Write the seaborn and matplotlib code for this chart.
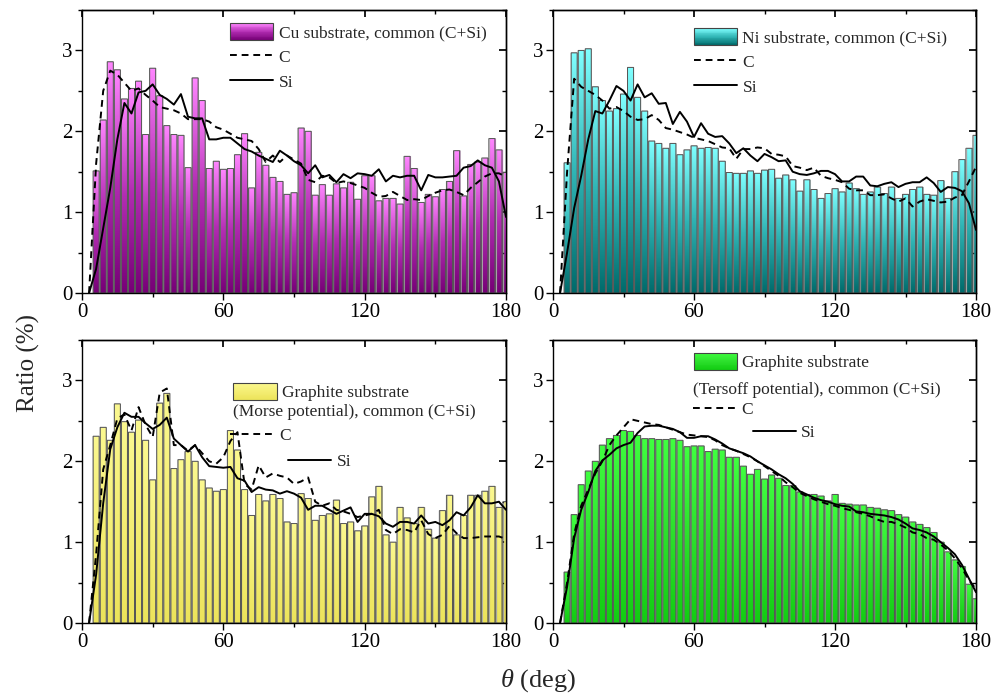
import numpy as np
import matplotlib
matplotlib.use("Agg")
import matplotlib.pyplot as plt
import seaborn as sns
from matplotlib.colors import LinearSegmentedColormap
from matplotlib.patches import Rectangle, Patch
from matplotlib.lines import Line2D
from matplotlib.legend_handler import HandlerBase

# ---------------- data ----------------
BAR_ANGLES = list(range(6, 181, 3))    # 59 bins (deg)
LINE_ANGLES = list(range(3, 181, 3))   # 60 points (deg)

cu_common = [1.51, 2.14, 2.86, 2.76, 2.40, 2.53, 2.62, 1.96, 2.78, 2.44,
             2.07, 1.96, 1.95, 1.55, 2.66, 2.38, 1.54, 1.63, 1.53, 1.54,
             1.71, 1.97, 1.30, 1.74, 1.58, 1.43, 1.38, 1.22, 1.24, 2.04,
             2.00, 1.21, 1.34, 1.21, 1.35, 1.30, 1.37, 1.16, 1.45, 1.45,
             1.14, 1.17, 1.17, 1.10, 1.69, 1.54, 1.12, 1.22, 1.19, 1.28,
             1.38, 1.76, 1.20, 1.59, 1.62, 1.67, 1.91, 1.77, 1.49]
cu_C = [0.00, 1.60, 2.50, 2.75, 2.70, 2.60, 2.50, 2.53, 2.45, 2.38,
        2.30, 2.28, 2.26, 2.22, 2.15, 2.15, 2.15, 2.12, 2.05, 2.02,
        1.97, 1.92, 1.90, 1.88, 1.78, 1.62, 1.70, 1.62, 1.70, 1.65,
        1.60, 1.40, 1.37, 1.45, 1.43, 1.36, 1.38, 1.36, 1.33, 1.30,
        1.24, 1.19, 1.20, 1.25, 1.20, 1.15, 1.16, 1.15, 1.20, 1.24,
        1.27, 1.28, 1.25, 1.21, 1.30, 1.37, 1.44, 1.48, 1.48, 1.44]
cu_Si = [0.00, 0.30, 0.80, 1.30, 1.90, 2.35, 2.22, 2.48, 2.50, 2.58,
         2.45, 2.40, 2.33, 2.46, 2.18, 2.16, 2.16, 1.90, 1.90, 1.92,
         1.92, 1.85, 1.78, 1.75, 1.70, 1.66, 1.62, 1.76, 1.70, 1.63,
         1.58, 1.48, 1.58, 1.43, 1.46, 1.37, 1.47, 1.42, 1.48, 1.47,
         1.45, 1.53, 1.38, 1.45, 1.43, 1.45, 1.45, 1.27, 1.46, 1.43,
         1.43, 1.44, 1.45, 1.55, 1.57, 1.64, 1.58, 1.55, 1.38, 0.94]

ni_common = [1.61, 2.97, 3.00, 3.02, 2.55, 2.38, 2.25, 2.28, 2.46, 2.79,
             2.42, 2.25, 1.88, 1.85, 1.79, 1.85, 1.71, 1.77, 1.82, 1.79,
             1.80, 1.79, 1.63, 1.49, 1.48, 1.48, 1.51, 1.48, 1.52, 1.53,
             1.42, 1.46, 1.40, 1.26, 1.40, 1.28, 1.17, 1.23, 1.29, 1.25,
             1.36, 1.29, 1.22, 1.25, 1.31, 1.23, 1.31, 1.17, 1.22, 1.28,
             1.31, 1.22, 1.21, 1.39, 1.17, 1.50, 1.65, 1.79, 1.95]
ni_C = [0.00, 1.50, 2.65, 2.55, 2.50, 2.45, 2.38, 2.28, 2.30, 2.25,
        2.18, 2.14, 2.15, 2.20, 2.14, 2.04, 2.02, 1.99, 1.96, 1.92,
        1.90, 1.88, 1.84, 1.80, 1.79, 1.66, 1.78, 1.78, 1.80, 1.79,
        1.72, 1.71, 1.69, 1.57, 1.55, 1.52, 1.55, 1.45, 1.42, 1.40,
        1.37, 1.29, 1.27, 1.27, 1.21, 1.21, 1.22, 1.17, 1.13, 1.17,
        1.07, 1.13, 1.16, 1.14, 1.12, 1.13, 1.18, 1.21, 1.38, 1.56]
ni_Si = [0.00, 0.50, 1.05, 1.45, 1.90, 2.25, 2.22, 2.38, 2.56, 2.50,
         2.38, 2.58, 2.42, 2.47, 2.34, 2.35, 2.09, 2.24, 2.12, 1.93,
         2.10, 1.97, 1.93, 1.94, 1.85, 1.73, 1.79, 1.70, 1.63, 1.72,
         1.68, 1.63, 1.64, 1.50, 1.47, 1.46, 1.48, 1.51, 1.51, 1.47,
         1.38, 1.38, 1.44, 1.44, 1.33, 1.32, 1.35, 1.37, 1.31, 1.35,
         1.37, 1.37, 1.43, 1.36, 1.25, 1.31, 1.30, 1.26, 1.11, 0.78]

morse_common = [2.31, 2.42, 2.26, 2.71, 2.49, 2.36, 2.51, 2.26, 1.77, 2.72,
                2.84, 1.91, 2.02, 2.12, 2.00, 1.77, 1.67, 1.63, 1.65, 2.38,
                2.14, 1.65, 1.33, 1.59, 1.51, 1.59, 1.54, 1.25, 1.23, 1.60,
                1.54, 1.27, 1.33, 1.35, 1.52, 1.23, 1.25, 1.14, 1.20, 1.56,
                1.69, 1.09, 1.00, 1.43, 1.30, 1.23, 1.43, 1.16, 1.05, 1.39,
                1.58, 1.09, 1.33, 1.58, 1.58, 1.63, 1.69, 1.43, 1.50]
morse_C = [0.00, 0.85, 1.90, 2.20, 2.53, 2.58, 2.38, 2.67, 2.45, 2.30,
           2.85, 2.90, 2.20, 2.20, 2.13, 2.20, 2.10, 2.00, 1.97, 2.05,
           2.25, 2.36, 1.72, 1.65, 1.95, 1.80, 1.85, 1.82, 1.80, 1.72,
           1.75, 1.80, 1.50, 1.45, 1.48, 1.40, 1.38, 1.35, 1.31, 1.33,
           1.35, 1.40, 1.15, 1.10, 1.16, 1.15, 1.12, 1.27, 1.10, 1.05,
           1.09, 1.20, 1.11, 1.05, 1.05, 1.06, 1.07, 1.07, 1.07, 1.04]
morse_Si = [0.00, 0.60, 1.48, 2.15, 2.42, 2.60, 2.55, 2.55, 2.47, 2.40,
            2.45, 2.54, 2.28, 2.20, 2.12, 2.20, 2.05, 1.94, 1.93, 1.92,
            1.93, 1.79, 1.76, 1.62, 1.68, 1.65, 1.64, 1.60, 1.63, 1.60,
            1.55, 1.40, 1.45, 1.45, 1.40, 1.35, 1.39, 1.43, 1.25, 1.35,
            1.35, 1.32, 1.23, 1.19, 1.25, 1.25, 1.23, 1.33, 1.23, 1.25,
            1.21, 1.27, 1.37, 1.33, 1.43, 1.58, 1.48, 1.48, 1.50, 1.40]

tersoff_common = [0.63, 1.34, 1.71, 1.88, 2.00, 2.20, 2.28, 2.32, 2.38, 2.37,
                  2.32, 2.28, 2.28, 2.27, 2.27, 2.28, 2.26, 2.18, 2.19, 2.19,
                  2.12, 2.15, 2.14, 2.05, 2.05, 1.94, 1.84, 1.90, 1.78, 1.83,
                  1.79, 1.70, 1.70, 1.62, 1.59, 1.59, 1.57, 1.51, 1.59, 1.48,
                  1.47, 1.46, 1.46, 1.43, 1.42, 1.40, 1.39, 1.34, 1.31, 1.25,
                  1.22, 1.18, 1.12, 1.00, 0.88, 0.78, 0.70, 0.48, 0.30]
tersoff_C = [0.00, 0.50, 1.10, 1.45, 1.65, 1.85, 2.00, 2.20, 2.32, 2.42,
             2.52, 2.50, 2.48, 2.46, 2.45, 2.42, 2.39, 2.36, 2.33, 2.32,
             2.31, 2.30, 2.26, 2.20, 2.16, 2.13, 2.09, 2.05, 2.00, 1.94,
             1.88, 1.82, 1.74, 1.68, 1.61, 1.57, 1.53, 1.50, 1.47, 1.45,
             1.42, 1.40, 1.37, 1.35, 1.32, 1.28, 1.25, 1.25, 1.22, 1.18,
             1.12, 1.10, 1.05, 1.03, 0.97, 0.90, 0.80, 0.68, 0.53, 0.42]
tersoff_Si = [0.00, 0.45, 1.05, 1.40, 1.62, 1.88, 2.01, 2.08, 2.16, 2.20,
              2.23, 2.35, 2.43, 2.44, 2.44, 2.42, 2.40, 2.36, 2.29, 2.29,
              2.31, 2.31, 2.27, 2.22, 2.16, 2.13, 2.10, 2.06, 2.00, 1.95,
              1.90, 1.84, 1.79, 1.72, 1.63, 1.59, 1.55, 1.52, 1.50, 1.47,
              1.45, 1.44, 1.38, 1.37, 1.35, 1.34, 1.33, 1.31, 1.28, 1.23,
              1.17, 1.15, 1.12, 1.07, 1.00, 0.93, 0.85, 0.72, 0.55, 0.38]

X_TICKS = [0, 60, 120, 180]
Y_TICKS = [0, 1, 2, 3]

# ---------------- style ----------------
sns.set_theme(style="ticks")
plt.rcParams["font.family"] = ["Liberation Serif", "DejaVu Serif"]
plt.rcParams["mathtext.fontset"] = "custom"
plt.rcParams["mathtext.rm"] = "Liberation Serif"
plt.rcParams["mathtext.it"] = "Liberation Serif:italic"
plt.rcParams["axes.edgecolor"] = "black"
plt.rcParams["axes.linewidth"] = 1.0
plt.rcParams["xtick.color"] = "black"
plt.rcParams["ytick.color"] = "black"

cmaps = {
    "cu": LinearSegmentedColormap.from_list("cu", ["#760076", "#b22db2", "#ff86ff"]),
    "ni": LinearSegmentedColormap.from_list("ni", ["#006a6a", "#2fb4b4", "#80ffff"]),
    "morse": LinearSegmentedColormap.from_list("mo", ["#ece35a", "#f4ee74", "#fbf890"]),
    "tersoff": LinearSegmentedColormap.from_list("te", ["#12cc12", "#2de02d", "#40ff40"]),
}


class GradHandler(HandlerBase):
    def __init__(self, cmap):
        super().__init__()
        self.cmap = cmap

    def create_artists(self, legend, orig_handle, xd, yd, width, height, fontsize, trans):
        arts = []
        n = 20
        for i in range(n):
            arts.append(Rectangle((-xd, -yd + height * i / n), width, height / n + 0.01,
                                  facecolor=self.cmap((i + 0.5) / n), edgecolor="none",
                                  transform=trans))
        arts.append(Rectangle((-xd, -yd), width, height, fill=False,
                              edgecolor="#444444", lw=0.8, transform=trans))
        return arts


fig = plt.figure(figsize=(10.05, 6.93), dpi=100)
W, H = 1005, 693
boxes = [
    (82, 10, 424, 283),
    (553, 10, 423, 283),
    (82, 340, 424, 283),
    (553, 340, 423, 283),
]

panels = [
    ("cu", cu_common, cu_C, cu_Si),
    ("ni", ni_common, ni_C, ni_Si),
    ("morse", morse_common, morse_C, morse_Si),
    ("tersoff", tersoff_common, tersoff_C, tersoff_Si),
]

LEG_FS = 12.5
XMAX, YMAX = 180, 3.5
NX, NY = 2400, 900

for (x0, y0, w, h), (key, common, cval, sival) in zip(boxes, panels):
    ax = fig.add_axes([x0 / W, 1 - (y0 + h) / H, w / W, h / H])
    cmap = cmaps[key]
    sns.barplot(x=BAR_ANGLES, y=common, native_scale=True, width=0.86,
                color=cmap(0.5), edgecolor="#555555", linewidth=0.7,
                errorbar=None, ax=ax, zorder=2)

    # vertical gradient inside each bar (normalised to that bar's height)
    xs = (np.arange(NX) + 0.5) * XMAX / NX
    ys = (np.arange(NY) + 0.5) * YMAX / NY
    img = np.full((NY, NX), np.nan)
    for p in list(ax.patches):
        bx, bw, bh = p.get_x(), p.get_width(), p.get_height()
        cols = (xs >= bx) & (xs < bx + bw)
        col = ys / bh
        col[ys > bh] = np.nan
        img[:, cols] = col[:, None]
        p.set_facecolor("none")
        p.set_zorder(2)
        p.set_snap(False)
    ax.imshow(np.ma.masked_invalid(img), extent=[0, XMAX, 0, YMAX], origin="lower",
              aspect="auto", cmap=cmap, vmin=0, vmax=1, interpolation="antialiased",
              zorder=1.5)

    sns.lineplot(x=LINE_ANGLES, y=cval, ax=ax, color="black", lw=1.4,
                 linestyle=(0, (3.5, 2.5)), zorder=3)
    sns.lineplot(x=LINE_ANGLES, y=sival, ax=ax, color="black", lw=1.4, zorder=3)

    ax.set_xlim(0, XMAX)
    ax.set_ylim(0, YMAX)
    ax.set_xticks(X_TICKS)
    ax.set_xticks([30, 90, 150], minor=True)
    ax.set_yticks(Y_TICKS)
    ax.set_yticks([0.5, 1.5, 2.5, 3.5], minor=True)
    ax.set_xlabel("")
    ax.set_ylabel("")
    ax.tick_params(which="major", direction="out", length=5, width=1, labelsize=15, pad=2)
    ax.tick_params(which="minor", direction="out", length=3, width=1)
    for s in ax.spines.values():
        s.set_visible(True)
        s.set_color("black")
    sx = ax.secondary_xaxis("top")
    sx.set_xticks(X_TICKS)
    sx.set_xticks([30, 90, 150], minor=True)
    sx.tick_params(which="major", direction="in", length=5, labeltop=False)
    sx.tick_params(which="minor", direction="in", length=3)
    sy = ax.secondary_yaxis("right")
    sy.set_yticks(Y_TICKS)
    sy.set_yticks([0.5, 1.5, 2.5, 3.5], minor=True)
    sy.tick_params(which="major", direction="in", length=5, labelright=False)
    sy.tick_params(which="minor", direction="in", length=3)

    ph = Patch(facecolor=cmap(0.5))
    c_h = Line2D([], [], color="black", lw=1.4, linestyle=(0, (3.5, 2.5)))
    s_h = Line2D([], [], color="black", lw=1.4)
    common_kw = dict(frameon=False, fontsize=LEG_FS, borderpad=0, borderaxespad=0,
                     handlelength=2.5, handletextpad=0.3, handler_map={ph: GradHandler(cmap)})

    if key in ("cu", "ni"):
        name = "Cu substrate, common (C+Si)" if key == "cu" else "Ni substrate, common (C+Si)"
        anchor = (0.349, 0.953) if key == "cu" else (0.333, 0.935)
        ax.legend([ph, c_h, s_h], [name, "C", "Si"], loc="upper left",
                  bbox_to_anchor=anchor, labelspacing=0.38, handleheight=1.1, **common_kw)
    else:
        if key == "morse":
            line2 = "(Morse potential), common (C+Si)"
            p1, t2, c3, s4 = (0.357, 0.816), (0.357, 0.746), (0.350, 0.661), (0.486, 0.569)
        else:
            line2 = "(Tersoff potential), common (C+Si)"
            p1, t2, c3, s4 = (0.333, 0.922), (0.331, 0.823), (0.331, 0.753), (0.472, 0.671)
        l1 = ax.legend([ph], ["Graphite substrate"], loc="center left", bbox_to_anchor=p1,
                       handleheight=1.1, **common_kw)
        ax.add_artist(l1)
        ax.text(t2[0], t2[1], line2, transform=ax.transAxes, fontsize=LEG_FS,
                ha="left", va="center")
        l2 = ax.legend([c_h], ["C"], loc="center left", bbox_to_anchor=c3, **common_kw)
        ax.add_artist(l2)
        ax.legend([s_h], ["Si"], loc="center left", bbox_to_anchor=s4, **common_kw)

fig.text(0.028, 0.476, "Ratio (%)", rotation=90, ha="center", va="center", fontsize=18)
fig.text(0.535, 0.018, r"$\mathit{\theta}$ (deg)", ha="center", va="center", fontsize=19)

fig.savefig("out.png", dpi=100)
